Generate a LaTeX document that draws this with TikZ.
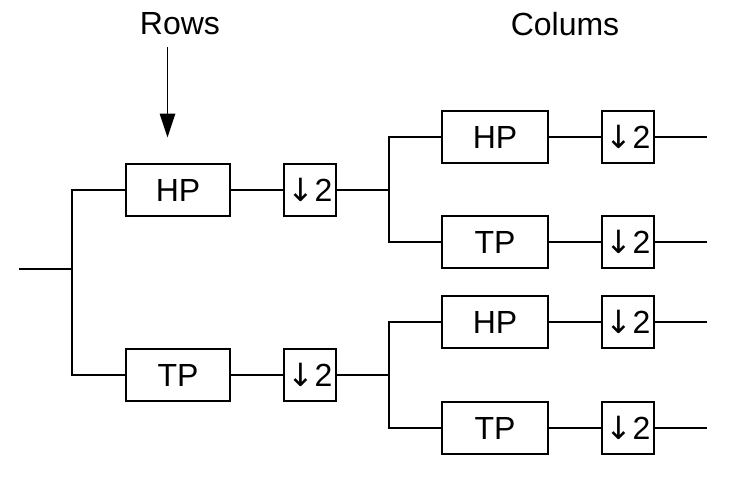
\documentclass[tikz,border=0pt]{standalone}
\usepackage{fontspec}
\setmainfont{Liberation Sans}
\newfontfamily\arrowfont{DejaVu Sans}
\newcommand{\dsamp}{{\arrowfont ↓}2}
\usetikzlibrary{arrows.meta}
\begin{document}
\begin{tikzpicture}[x=1pt,y=-1pt,
  wire/.style={line width=2pt,line cap=rect},
  filt/.style={draw,line width=2pt,rectangle,minimum width=104pt,minimum height=52pt,inner sep=0pt,font=\fontsize{32}{38}\selectfont},
  filtb/.style={filt,minimum width=106pt},
  down/.style={draw,line width=2pt,rectangle,minimum width=52pt,minimum height=52pt,inner sep=0pt,font=\fontsize{32}{38}\selectfont},
  lab/.style={inner sep=0pt,font=\fontsize{32}{38}\selectfont}]
\useasboundingbox (0,0) rectangle (746,488);
% labels
\node[lab] (rows) at (180,24) {Rows};
\node[lab] (cols) at (565,24) {Colums};
% first stage
\node[filt] (hp1) at (178,190) {HP};
\node[filt] (tp1) at (178,375) {TP};
\node[down] (d1) at (310,190) {\dsamp};
\node[down] (d2) at (310,375) {\dsamp};
% second stage, upper
\node[filtb] (hpa) at (495,137) {HP};
\node[filtb] (tpa) at (495,242) {TP};
\node[down] (da) at (628,137) {\dsamp};
\node[down] (db) at (628,242) {\dsamp};
% second stage, lower
\node[filtb] (hpb) at (495,322) {HP};
\node[filtb] (tpb) at (495,428) {TP};
\node[down] (dc) at (628,322) {\dsamp};
\node[down] (dd) at (628,428) {\dsamp};
% coordinates
\coordinate (in) at (19,269);
\coordinate (s1) at (72,269);
\coordinate (s1t) at (72,190);
\coordinate (s1b) at (72,375);
\coordinate (s2t) at (389,137);
\coordinate (s2m) at (389,190);
\coordinate (s2b) at (389,242);
\coordinate (s3t) at (389,322);
\coordinate (s3m) at (389,375);
\coordinate (s3b) at (389,428);
\coordinate (oa) at (707,137);
\coordinate (ob) at (707,242);
\coordinate (oc) at (707,322);
\coordinate (od) at (707,428);
\coordinate (ra) at (167.5,47);
\coordinate (rb) at (167.5,137.5);
% wires
\draw[wire,line cap=butt] (in) -- (s1);
\draw[wire,line join=miter] (hp1.west) -- (s1t) -- (s1b) -- (tp1.west);
\draw[wire] (hp1) -- (d1);
\draw[wire] (tp1) -- (d2);
\draw[wire] (d1.east) -- (s2m);
\draw[wire] (d2.east) -- (s3m);
\draw[wire,line join=miter] (hpa.west) -- (s2t) -- (s2b) -- (tpa.west);
\draw[wire,line join=miter] (hpb.west) -- (s3t) -- (s3b) -- (tpb.west);
\draw[wire] (hpa) -- (da);
\draw[wire] (tpa) -- (db);
\draw[wire] (hpb) -- (dc);
\draw[wire] (tpb) -- (dd);
\draw[wire,line cap=butt] (da.east) -- (oa);
\draw[wire,line cap=butt] (db.east) -- (ob);
\draw[wire,line cap=butt] (dc.east) -- (oc);
\draw[wire,line cap=butt] (dd.east) -- (od);
% rows arrow
\draw[line width=1.2pt,-{Triangle[length=24pt,width=15.5pt]}] (ra) -- (rb);
\end{tikzpicture}
\end{document}
